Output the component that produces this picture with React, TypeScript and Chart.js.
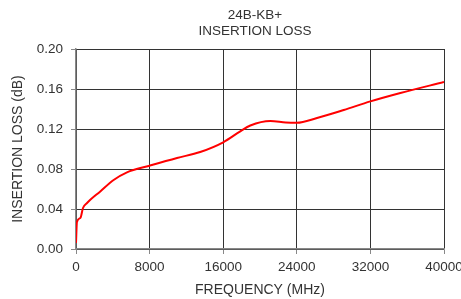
import React, { useEffect, useRef } from "react";
import { Chart, registerables } from "chart.js";

Chart.register(...registerables);

const titleLines = ["24B-KB+", "INSERTION LOSS"];
const xTitle = "FREQUENCY (MHz)";
const yTitle = "INSERTION LOSS (dB)";

const freqMHz = [0, 100, 470, 760, 1200, 2640, 4090, 5540, 8000, 10980, 13500, 16000, 17860, 18950, 21130, 22800, 24000, 26200, 29100, 32000, 35260, 40000];
const lossDb = [0.006, 0.027, 0.031, 0.041, 0.046, 0.0576, 0.069, 0.0767, 0.0833, 0.091, 0.097, 0.1067, 0.1177, 0.1235, 0.128, 0.1265, 0.1262, 0.131, 0.139, 0.1476, 0.156, 0.167];

const xMin = 0, xMax = 40000, xStep = 8000;
const yMin = 0, yMax = 0.2, yStep = 0.04;

const FONT = '"Liberation Sans", Arial, sans-serif';
const TEXT = "#333333";

export default function App() {
  const ref = useRef<HTMLCanvasElement | null>(null);
  useEffect(() => {
    document.body.style.margin = "0";
    const canvas = ref.current!;
    const titlePlugin = {
      id: "customTitle",
      afterDraw(chart: any) {
        const ctx = chart.ctx;
        ctx.save();
        ctx.fillStyle = TEXT;
        ctx.font = `13.5px ${FONT}`;
        ctx.textAlign = "center";
        ctx.textBaseline = "middle";
        ctx.fillText(titleLines[0], 255, 15.5);
        ctx.fillText(titleLines[1], 255, 31.5);
        ctx.restore();
      },
    };
    const chart = new Chart(canvas, {
      type: "line",
      data: {
        datasets: [
          {
            data: freqMHz.map((x, i) => ({ x, y: lossDb[i] })),
            borderColor: "#ff0000",
            borderWidth: 2,
            pointRadius: 0,
            fill: false,
            cubicInterpolationMode: "monotone",
          },
        ],
      },
      options: {
        responsive: false,
        animation: false,
        devicePixelRatio: 1,
        layout: { padding: { left: 0, top: 49, right: 36, bottom: 0 } },
        plugins: { legend: { display: false }, title: { display: false }, tooltip: { enabled: false } },
        scales: {
          x: {
            type: "linear",
            min: xMin,
            max: xMax,
            afterFit: (s: any) => { s.height = 50; },
            ticks: {
              stepSize: xStep,
              color: TEXT,
              font: { family: FONT, size: 13.5 },
              padding: 5,
              maxRotation: 0,
              callback: (v: any) => String(v),
            },
            grid: { color: "#333333", lineWidth: 1, tickLength: 5, tickColor: "#888888" },
            border: { color: "#888888", width: 1.5 },
            title: { display: true, text: xTitle, color: TEXT, font: { family: FONT, size: 14 }, padding: { top: 0, bottom: 0 } },
          },
          y: {
            type: "linear",
            min: yMin,
            max: yMax,
            afterFit: (s: any) => { s.width = 76; },
            ticks: {
              stepSize: yStep,
              color: TEXT,
              font: { family: FONT, size: 13.5 },
              padding: 8,
              callback: (v: any) => Number(v).toFixed(2),
            },
            grid: { color: "#333333", lineWidth: 1, tickLength: 5, tickColor: "#888888" },
            border: { color: "#888888", width: 1.5 },
            title: { display: true, text: yTitle, color: TEXT, font: { family: FONT, size: 14 }, padding: { top: 10, bottom: 0 } },
          },
        },
      },
      plugins: [titlePlugin],
    } as any);
    return () => chart.destroy();
  }, []);
  return (
    <div style={{ position: "fixed", left: 0, top: 0, width: 461, height: 299, overflow: "hidden", background: "#fff" }}>
      <canvas ref={ref} width={480} height={299} style={{ width: 480, height: 299, display: "block" }} />
    </div>
  );
}
